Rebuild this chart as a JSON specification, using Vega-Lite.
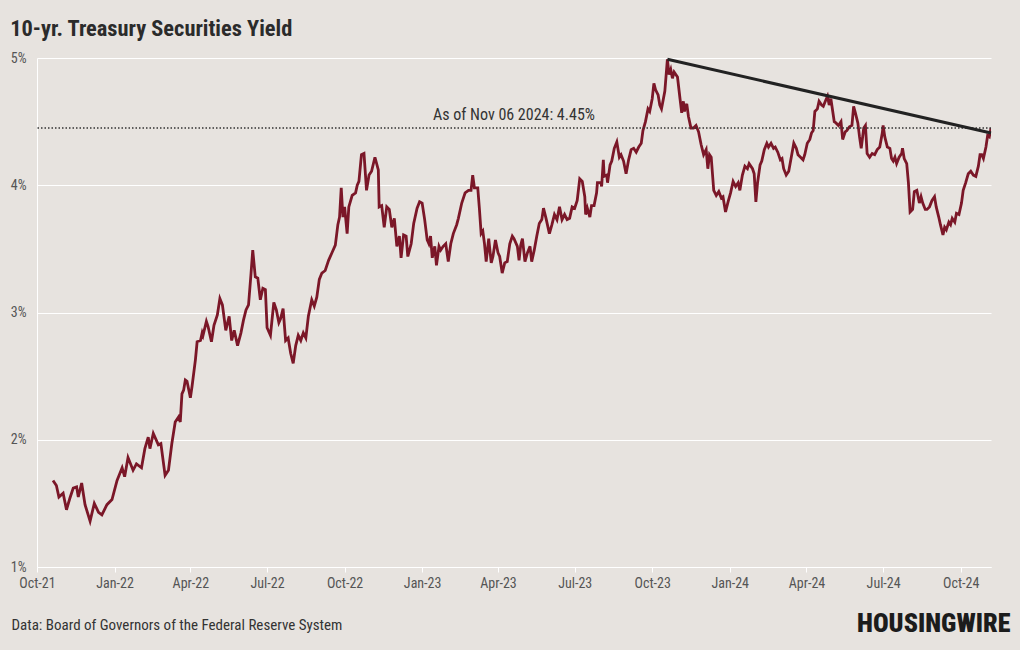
{
  "$schema": "https://vega.github.io/schema/vega-lite/v6.json",
  "width": 954,
  "height": 509,
  "autosize": {"type": "none"},
  "padding": {"left": 37, "top": 58, "right": 29, "bottom": 83},
  "background": "#e7e3df",
  "title": {
    "text": "10-yr. Treasury Securities Yield",
    "anchor": "start",
    "frame": "bounds",
    "font": "Roboto Condensed, Liberation Sans Narrow, Roboto",
    "fontSize": 22.4,
    "fontWeight": "bold",
    "color": "#2b2b2b",
    "baseline": "alphabetic",
    "offset": 20,
    "dy": 27
  },
  "config": {
    "view": {"stroke": null},
    "axis": {
      "labelFont": "Roboto Condensed, Liberation Sans Narrow, Roboto",
      "titleFont": "Roboto Condensed, Liberation Sans Narrow, Roboto"
    }
  },
  "datasets": {
    "yield": [
      {"date":"2021-10-20","value":1.68},{"date":"2021-10-24","value":1.64},{"date":"2021-10-27","value":1.55},{"date":"2021-11-01","value":1.58},{"date":"2021-11-05","value":1.45},{"date":"2021-11-09","value":1.54},{"date":"2021-11-13","value":1.62},{"date":"2021-11-17","value":1.63},{"date":"2021-11-19","value":1.55},{"date":"2021-11-23","value":1.66},{"date":"2021-11-27","value":1.49},{"date":"2021-12-03","value":1.36},{"date":"2021-12-08","value":1.50},{"date":"2021-12-13","value":1.43},{"date":"2021-12-17","value":1.41},{"date":"2021-12-23","value":1.49},{"date":"2021-12-29","value":1.53},
      {"date":"2022-01-04","value":1.68},{"date":"2022-01-10","value":1.78},{"date":"2022-01-13","value":1.71},{"date":"2022-01-17","value":1.86},{"date":"2022-01-23","value":1.76},{"date":"2022-01-27","value":1.81},{"date":"2022-02-02","value":1.78},{"date":"2022-02-06","value":1.93},{"date":"2022-02-10","value":2.02},{"date":"2022-02-12","value":1.93},{"date":"2022-02-16","value":2.05},{"date":"2022-02-22","value":1.96},{"date":"2022-02-25","value":1.97},{"date":"2022-03-02","value":1.72},{"date":"2022-03-06","value":1.76},{"date":"2022-03-10","value":1.97},{"date":"2022-03-14","value":2.14},{"date":"2022-03-18","value":2.18},{"date":"2022-03-20","value":2.14},{"date":"2022-03-22","value":2.36},{"date":"2022-03-24","value":2.39},{"date":"2022-03-26","value":2.47},{"date":"2022-03-28","value":2.46},{"date":"2022-04-01","value":2.33},{"date":"2022-04-03","value":2.42},{"date":"2022-04-07","value":2.63},{"date":"2022-04-09","value":2.77},{"date":"2022-04-13","value":2.78},{"date":"2022-04-15","value":2.84},{"date":"2022-04-16","value":2.82},{"date":"2022-04-20","value":2.93},{"date":"2022-04-22","value":2.89},{"date":"2022-04-26","value":2.77},{"date":"2022-04-29","value":2.90},{"date":"2022-05-03","value":2.98},{"date":"2022-05-06","value":3.11},{"date":"2022-05-09","value":3.06},{"date":"2022-05-13","value":2.86},{"date":"2022-05-17","value":2.97},{"date":"2022-05-20","value":2.78},{"date":"2022-05-23","value":2.86},{"date":"2022-05-27","value":2.74},{"date":"2022-05-31","value":2.84},{"date":"2022-06-03","value":2.94},{"date":"2022-06-06","value":3.02},{"date":"2022-06-09","value":3.06},{"date":"2022-06-12","value":3.31},{"date":"2022-06-14","value":3.49},{"date":"2022-06-17","value":3.28},{"date":"2022-06-20","value":3.27},{"date":"2022-06-23","value":3.10},{"date":"2022-06-26","value":3.19},{"date":"2022-06-29","value":3.18},{"date":"2022-07-01","value":2.88},{"date":"2022-07-05","value":2.82},{"date":"2022-07-09","value":3.08},{"date":"2022-07-12","value":3.02},{"date":"2022-07-15","value":2.92},{"date":"2022-07-17","value":2.95},{"date":"2022-07-20","value":3.03},{"date":"2022-07-23","value":2.78},{"date":"2022-07-26","value":2.80},{"date":"2022-07-29","value":2.68},{"date":"2022-08-01","value":2.60},{"date":"2022-08-04","value":2.74},{"date":"2022-08-07","value":2.82},{"date":"2022-08-10","value":2.78},{"date":"2022-08-13","value":2.84},{"date":"2022-08-16","value":2.80},{"date":"2022-08-19","value":2.97},{"date":"2022-08-23","value":3.10},{"date":"2022-08-26","value":3.05},{"date":"2022-08-29","value":3.12},{"date":"2022-09-01","value":3.26},{"date":"2022-09-04","value":3.31},{"date":"2022-09-08","value":3.33},{"date":"2022-09-12","value":3.41},{"date":"2022-09-16","value":3.47},{"date":"2022-09-20","value":3.53},{"date":"2022-09-23","value":3.69},{"date":"2022-09-25","value":3.75},{"date":"2022-09-27","value":3.98},{"date":"2022-09-29","value":3.75},{"date":"2022-10-01","value":3.83},{"date":"2022-10-04","value":3.62},{"date":"2022-10-06","value":3.83},{"date":"2022-10-10","value":3.92},{"date":"2022-10-14","value":3.94},{"date":"2022-10-16","value":4.00},{"date":"2022-10-18","value":4.03},{"date":"2022-10-21","value":4.24},{"date":"2022-10-24","value":4.25},{"date":"2022-10-27","value":3.96},{"date":"2022-10-30","value":4.08},{"date":"2022-11-02","value":4.11},{"date":"2022-11-06","value":4.22},{"date":"2022-11-10","value":4.12},{"date":"2022-11-11","value":3.83},{"date":"2022-11-14","value":3.84},{"date":"2022-11-17","value":3.67},{"date":"2022-11-20","value":3.83},{"date":"2022-11-23","value":3.81},{"date":"2022-11-26","value":3.67},{"date":"2022-11-29","value":3.74},{"date":"2022-12-02","value":3.52},{"date":"2022-12-05","value":3.60},{"date":"2022-12-07","value":3.43},{"date":"2022-12-10","value":3.61},{"date":"2022-12-13","value":3.60},{"date":"2022-12-15","value":3.44},{"date":"2022-12-19","value":3.54},{"date":"2022-12-22","value":3.70},{"date":"2022-12-26","value":3.82},{"date":"2022-12-29","value":3.87},
      {"date":"2023-01-01","value":3.86},{"date":"2023-01-04","value":3.73},{"date":"2023-01-07","value":3.57},{"date":"2023-01-09","value":3.54},{"date":"2023-01-11","value":3.60},{"date":"2023-01-13","value":3.43},{"date":"2023-01-16","value":3.52},{"date":"2023-01-18","value":3.37},{"date":"2023-01-21","value":3.52},{"date":"2023-01-23","value":3.49},{"date":"2023-01-26","value":3.52},{"date":"2023-01-29","value":3.54},{"date":"2023-02-01","value":3.40},{"date":"2023-02-04","value":3.54},{"date":"2023-02-07","value":3.62},{"date":"2023-02-11","value":3.69},{"date":"2023-02-13","value":3.74},{"date":"2023-02-17","value":3.86},{"date":"2023-02-21","value":3.94},{"date":"2023-02-25","value":3.96},{"date":"2023-02-28","value":3.96},{"date":"2023-03-02","value":4.08},{"date":"2023-03-04","value":3.98},{"date":"2023-03-08","value":3.98},{"date":"2023-03-10","value":3.81},{"date":"2023-03-12","value":3.62},{"date":"2023-03-14","value":3.64},{"date":"2023-03-16","value":3.54},{"date":"2023-03-18","value":3.40},{"date":"2023-03-21","value":3.58},{"date":"2023-03-24","value":3.39},{"date":"2023-03-26","value":3.44},{"date":"2023-03-29","value":3.57},{"date":"2023-04-01","value":3.47},{"date":"2023-04-03","value":3.44},{"date":"2023-04-06","value":3.31},{"date":"2023-04-09","value":3.39},{"date":"2023-04-12","value":3.40},{"date":"2023-04-15","value":3.54},{"date":"2023-04-18","value":3.60},{"date":"2023-04-20","value":3.58},{"date":"2023-04-24","value":3.52},{"date":"2023-04-26","value":3.41},{"date":"2023-04-28","value":3.53},{"date":"2023-04-30","value":3.58},{"date":"2023-05-03","value":3.40},{"date":"2023-05-06","value":3.47},{"date":"2023-05-09","value":3.52},{"date":"2023-05-11","value":3.40},{"date":"2023-05-14","value":3.49},{"date":"2023-05-17","value":3.60},{"date":"2023-05-20","value":3.70},{"date":"2023-05-23","value":3.73},{"date":"2023-05-25","value":3.82},{"date":"2023-05-28","value":3.74},{"date":"2023-06-01","value":3.62},{"date":"2023-06-04","value":3.69},{"date":"2023-06-07","value":3.77},{"date":"2023-06-10","value":3.73},{"date":"2023-06-13","value":3.83},{"date":"2023-06-16","value":3.73},{"date":"2023-06-19","value":3.77},{"date":"2023-06-22","value":3.73},{"date":"2023-06-25","value":3.74},{"date":"2023-06-28","value":3.83},{"date":"2023-07-01","value":3.82},{"date":"2023-07-04","value":3.88},{"date":"2023-07-07","value":4.05},{"date":"2023-07-10","value":4.03},{"date":"2023-07-13","value":3.91},{"date":"2023-07-14","value":3.77},{"date":"2023-07-16","value":3.82},{"date":"2023-07-19","value":3.75},{"date":"2023-07-21","value":3.84},{"date":"2023-07-24","value":3.84},{"date":"2023-07-27","value":3.94},{"date":"2023-07-28","value":4.02},{"date":"2023-08-01","value":4.02},{"date":"2023-08-02","value":3.99},{"date":"2023-08-04","value":4.20},{"date":"2023-08-05","value":4.07},{"date":"2023-08-08","value":4.08},{"date":"2023-08-09","value":4.02},{"date":"2023-08-12","value":4.16},{"date":"2023-08-14","value":4.19},{"date":"2023-08-17","value":4.29},{"date":"2023-08-20","value":4.34},{"date":"2023-08-23","value":4.22},{"date":"2023-08-25","value":4.24},{"date":"2023-08-28","value":4.19},{"date":"2023-08-31","value":4.09},{"date":"2023-09-03","value":4.20},{"date":"2023-09-06","value":4.28},{"date":"2023-09-09","value":4.29},{"date":"2023-09-12","value":4.26},{"date":"2023-09-15","value":4.30},{"date":"2023-09-18","value":4.33},{"date":"2023-09-20","value":4.43},{"date":"2023-09-23","value":4.50},{"date":"2023-09-26","value":4.60},{"date":"2023-09-28","value":4.58},{"date":"2023-10-01","value":4.68},{"date":"2023-10-03","value":4.80},{"date":"2023-10-05","value":4.75},{"date":"2023-10-08","value":4.71},{"date":"2023-10-10","value":4.63},{"date":"2023-10-12","value":4.60},{"date":"2023-10-14","value":4.67},{"date":"2023-10-16","value":4.74},{"date":"2023-10-19","value":4.99},{"date":"2023-10-21","value":4.87},{"date":"2023-10-23","value":4.91},{"date":"2023-10-25","value":4.84},{"date":"2023-10-27","value":4.89},{"date":"2023-10-29","value":4.87},{"date":"2023-10-31","value":4.85},{"date":"2023-11-03","value":4.68},{"date":"2023-11-05","value":4.57},{"date":"2023-11-07","value":4.66},{"date":"2023-11-08","value":4.58},{"date":"2023-11-11","value":4.64},{"date":"2023-11-13","value":4.54},{"date":"2023-11-16","value":4.45},{"date":"2023-11-19","value":4.45},{"date":"2023-11-22","value":4.47},{"date":"2023-11-25","value":4.42},{"date":"2023-11-28","value":4.32},{"date":"2023-12-01","value":4.24},{"date":"2023-12-04","value":4.28},{"date":"2023-12-06","value":4.13},{"date":"2023-12-08","value":4.24},{"date":"2023-12-10","value":4.22},{"date":"2023-12-13","value":3.96},{"date":"2023-12-16","value":3.92},{"date":"2023-12-19","value":3.95},{"date":"2023-12-22","value":3.90},{"date":"2023-12-24","value":3.91},{"date":"2023-12-27","value":3.79},{"date":"2023-12-30","value":3.87},
      {"date":"2024-01-02","value":3.94},{"date":"2024-01-05","value":4.03},{"date":"2024-01-08","value":3.99},{"date":"2024-01-11","value":4.02},{"date":"2024-01-13","value":3.96},{"date":"2024-01-16","value":4.08},{"date":"2024-01-19","value":4.15},{"date":"2024-01-22","value":4.13},{"date":"2024-01-24","value":4.17},{"date":"2024-01-28","value":4.13},{"date":"2024-01-30","value":4.09},{"date":"2024-02-01","value":3.87},{"date":"2024-02-03","value":4.02},{"date":"2024-02-06","value":4.16},{"date":"2024-02-08","value":4.19},{"date":"2024-02-11","value":4.28},{"date":"2024-02-14","value":4.33},{"date":"2024-02-16","value":4.30},{"date":"2024-02-19","value":4.33},{"date":"2024-02-22","value":4.29},{"date":"2024-02-24","value":4.30},{"date":"2024-02-27","value":4.26},{"date":"2024-03-01","value":4.20},{"date":"2024-03-03","value":4.21},{"date":"2024-03-05","value":4.13},{"date":"2024-03-08","value":4.08},{"date":"2024-03-11","value":4.11},{"date":"2024-03-14","value":4.22},{"date":"2024-03-17","value":4.33},{"date":"2024-03-20","value":4.29},{"date":"2024-03-22","value":4.24},{"date":"2024-03-25","value":4.22},{"date":"2024-03-28","value":4.20},{"date":"2024-03-30","value":4.24},{"date":"2024-04-02","value":4.33},{"date":"2024-04-05","value":4.36},{"date":"2024-04-07","value":4.41},{"date":"2024-04-09","value":4.43},{"date":"2024-04-11","value":4.58},{"date":"2024-04-14","value":4.60},{"date":"2024-04-16","value":4.66},{"date":"2024-04-19","value":4.63},{"date":"2024-04-21","value":4.62},{"date":"2024-04-24","value":4.67},{"date":"2024-04-26","value":4.70},{"date":"2024-04-28","value":4.63},{"date":"2024-04-30","value":4.68},{"date":"2024-05-02","value":4.59},{"date":"2024-05-04","value":4.50},{"date":"2024-05-06","value":4.49},{"date":"2024-05-09","value":4.47},{"date":"2024-05-12","value":4.50},{"date":"2024-05-14","value":4.36},{"date":"2024-05-17","value":4.42},{"date":"2024-05-19","value":4.43},{"date":"2024-05-22","value":4.46},{"date":"2024-05-25","value":4.47},{"date":"2024-05-27","value":4.62},{"date":"2024-05-29","value":4.57},{"date":"2024-06-01","value":4.49},{"date":"2024-06-03","value":4.38},{"date":"2024-06-05","value":4.29},{"date":"2024-06-08","value":4.45},{"date":"2024-06-10","value":4.47},{"date":"2024-06-12","value":4.25},{"date":"2024-06-15","value":4.22},{"date":"2024-06-18","value":4.25},{"date":"2024-06-21","value":4.24},{"date":"2024-06-24","value":4.28},{"date":"2024-06-27","value":4.30},{"date":"2024-06-30","value":4.41},{"date":"2024-07-01","value":4.47},{"date":"2024-07-03","value":4.38},{"date":"2024-07-06","value":4.30},{"date":"2024-07-09","value":4.29},{"date":"2024-07-11","value":4.21},{"date":"2024-07-13","value":4.19},{"date":"2024-07-15","value":4.22},{"date":"2024-07-17","value":4.17},{"date":"2024-07-20","value":4.22},{"date":"2024-07-23","value":4.25},{"date":"2024-07-24","value":4.29},{"date":"2024-07-26","value":4.21},{"date":"2024-07-29","value":4.17},{"date":"2024-07-31","value":4.02},{"date":"2024-08-02","value":3.79},{"date":"2024-08-05","value":3.81},{"date":"2024-08-07","value":3.95},{"date":"2024-08-10","value":3.96},{"date":"2024-08-13","value":3.86},{"date":"2024-08-15","value":3.91},{"date":"2024-08-17","value":3.86},{"date":"2024-08-20","value":3.81},{"date":"2024-08-22","value":3.81},{"date":"2024-08-25","value":3.83},{"date":"2024-08-28","value":3.88},{"date":"2024-08-31","value":3.91},{"date":"2024-09-02","value":3.83},{"date":"2024-09-05","value":3.75},{"date":"2024-09-07","value":3.69},{"date":"2024-09-10","value":3.61},{"date":"2024-09-12","value":3.67},{"date":"2024-09-14","value":3.65},{"date":"2024-09-17","value":3.71},{"date":"2024-09-19","value":3.69},{"date":"2024-09-21","value":3.74},{"date":"2024-09-24","value":3.71},{"date":"2024-09-26","value":3.78},{"date":"2024-09-29","value":3.77},{"date":"2024-10-02","value":3.86},{"date":"2024-10-04","value":3.96},{"date":"2024-10-07","value":4.02},{"date":"2024-10-10","value":4.09},{"date":"2024-10-13","value":4.11},{"date":"2024-10-16","value":4.08},{"date":"2024-10-19","value":4.07},{"date":"2024-10-22","value":4.15},{"date":"2024-10-24","value":4.24},{"date":"2024-10-26","value":4.24},{"date":"2024-10-28","value":4.21},{"date":"2024-10-31","value":4.30},{"date":"2024-11-02","value":4.39},{"date":"2024-11-04","value":4.38},{"date":"2024-11-06","value":4.45}
    ],
    "trend": [
      {"date": "2023-10-19", "value": 4.99},
      {"date": "2024-11-06", "value": 4.41}
    ],
    "latest": [
      {"date": "2023-04-20", "value": 4.45, "label": "As of Nov 06 2024: 4.45%"}
    ]
  },
  "layer": [
    {
      "data": {"name": "yield"},
      "mark": {"type": "line", "color": "#7b1728", "strokeWidth": 2.8, "clip": true},
      "encoding": {
        "x": {
          "field": "date",
          "type": "temporal",
          "scale": {
            "type": "utc",
            "domain": [
              {"year": 2021, "month": 10, "date": 1, "utc": true},
              {"year": 2024, "month": 11, "date": 6, "utc": true}
            ]
          },
          "axis": {
            "values": [
              {"year": 2021, "month": 10, "date": 1, "utc": true},
              {"year": 2022, "month": 1, "date": 1, "utc": true},
              {"year": 2022, "month": 4, "date": 1, "utc": true},
              {"year": 2022, "month": 7, "date": 1, "utc": true},
              {"year": 2022, "month": 10, "date": 1, "utc": true},
              {"year": 2023, "month": 1, "date": 1, "utc": true},
              {"year": 2023, "month": 4, "date": 1, "utc": true},
              {"year": 2023, "month": 7, "date": 1, "utc": true},
              {"year": 2023, "month": 10, "date": 1, "utc": true},
              {"year": 2024, "month": 1, "date": 1, "utc": true},
              {"year": 2024, "month": 4, "date": 1, "utc": true},
              {"year": 2024, "month": 7, "date": 1, "utc": true},
              {"year": 2024, "month": 10, "date": 1, "utc": true}
            ],
            "labelExpr": "utcFormat(datum.value, '%b-%y')",
            "grid": false,
            "domainColor": "#ffffff",
            "domainWidth": 1,
            "tickColor": "#ffffff",
            "tickSize": 5,
            "labelFontSize": 14,
            "labelColor": "#555555",
            "labelPadding": 4,
            "labelFlush": false,
            "labelOverlap": false,
            "title": "Data: Board of Governors of the Federal Reserve System",
            "titleFontSize": 15,
            "titleFontWeight": "normal",
            "titleColor": "#333333",
            "titleAlign": "left",
            "titleBaseline": "alphabetic",
            "titleX": -26,
            "titleY": 62
          }
        },
        "y": {
          "field": "value",
          "type": "quantitative",
          "scale": {"domain": [1, 5], "nice": false, "zero": false},
          "axis": {
            "values": [1, 2, 3, 4, 5],
            "labelExpr": "datum.value + '%'",
            "grid": true,
            "gridColor": "#ffffff",
            "gridWidth": 1,
            "domainColor": "#ffffff",
            "ticks": false,
            "labelFontSize": 14,
            "labelColor": "#555555",
            "labelPadding": 11,
            "title": "HOUSINGWIRE",
            "titleFont": "Roboto Condensed, Roboto",
            "titleFontSize": 26,
            "titleFontWeight": 900,
            "titleColor": "#1c1c1c",
            "titleAngle": 0,
            "titleAlign": "right",
            "titleBaseline": "alphabetic",
            "titleX": 973,
            "titleY": 573
          }
        }
      }
    },
    {
      "data": {"name": "latest"},
      "mark": {"type": "rule", "color": "#333333", "strokeWidth": 1.5, "strokeDash": [1.5, 2]},
      "encoding": {
        "y": {"field": "value", "type": "quantitative"}
      }
    },
    {
      "data": {"name": "latest"},
      "mark": {
        "type": "text",
        "font": "Roboto Condensed, Liberation Sans Narrow, Roboto",
        "fontSize": 16,
        "color": "#333333",
        "align": "center",
        "baseline": "alphabetic",
        "dy": -8
      },
      "encoding": {
        "x": {"field": "date", "type": "temporal"},
        "y": {"field": "value", "type": "quantitative"},
        "text": {"field": "label"}
      }
    },
    {
      "data": {"name": "trend"},
      "mark": {"type": "line", "color": "#222222", "strokeWidth": 3},
      "encoding": {
        "x": {"field": "date", "type": "temporal"},
        "y": {"field": "value", "type": "quantitative"}
      }
    }
  ]
}
